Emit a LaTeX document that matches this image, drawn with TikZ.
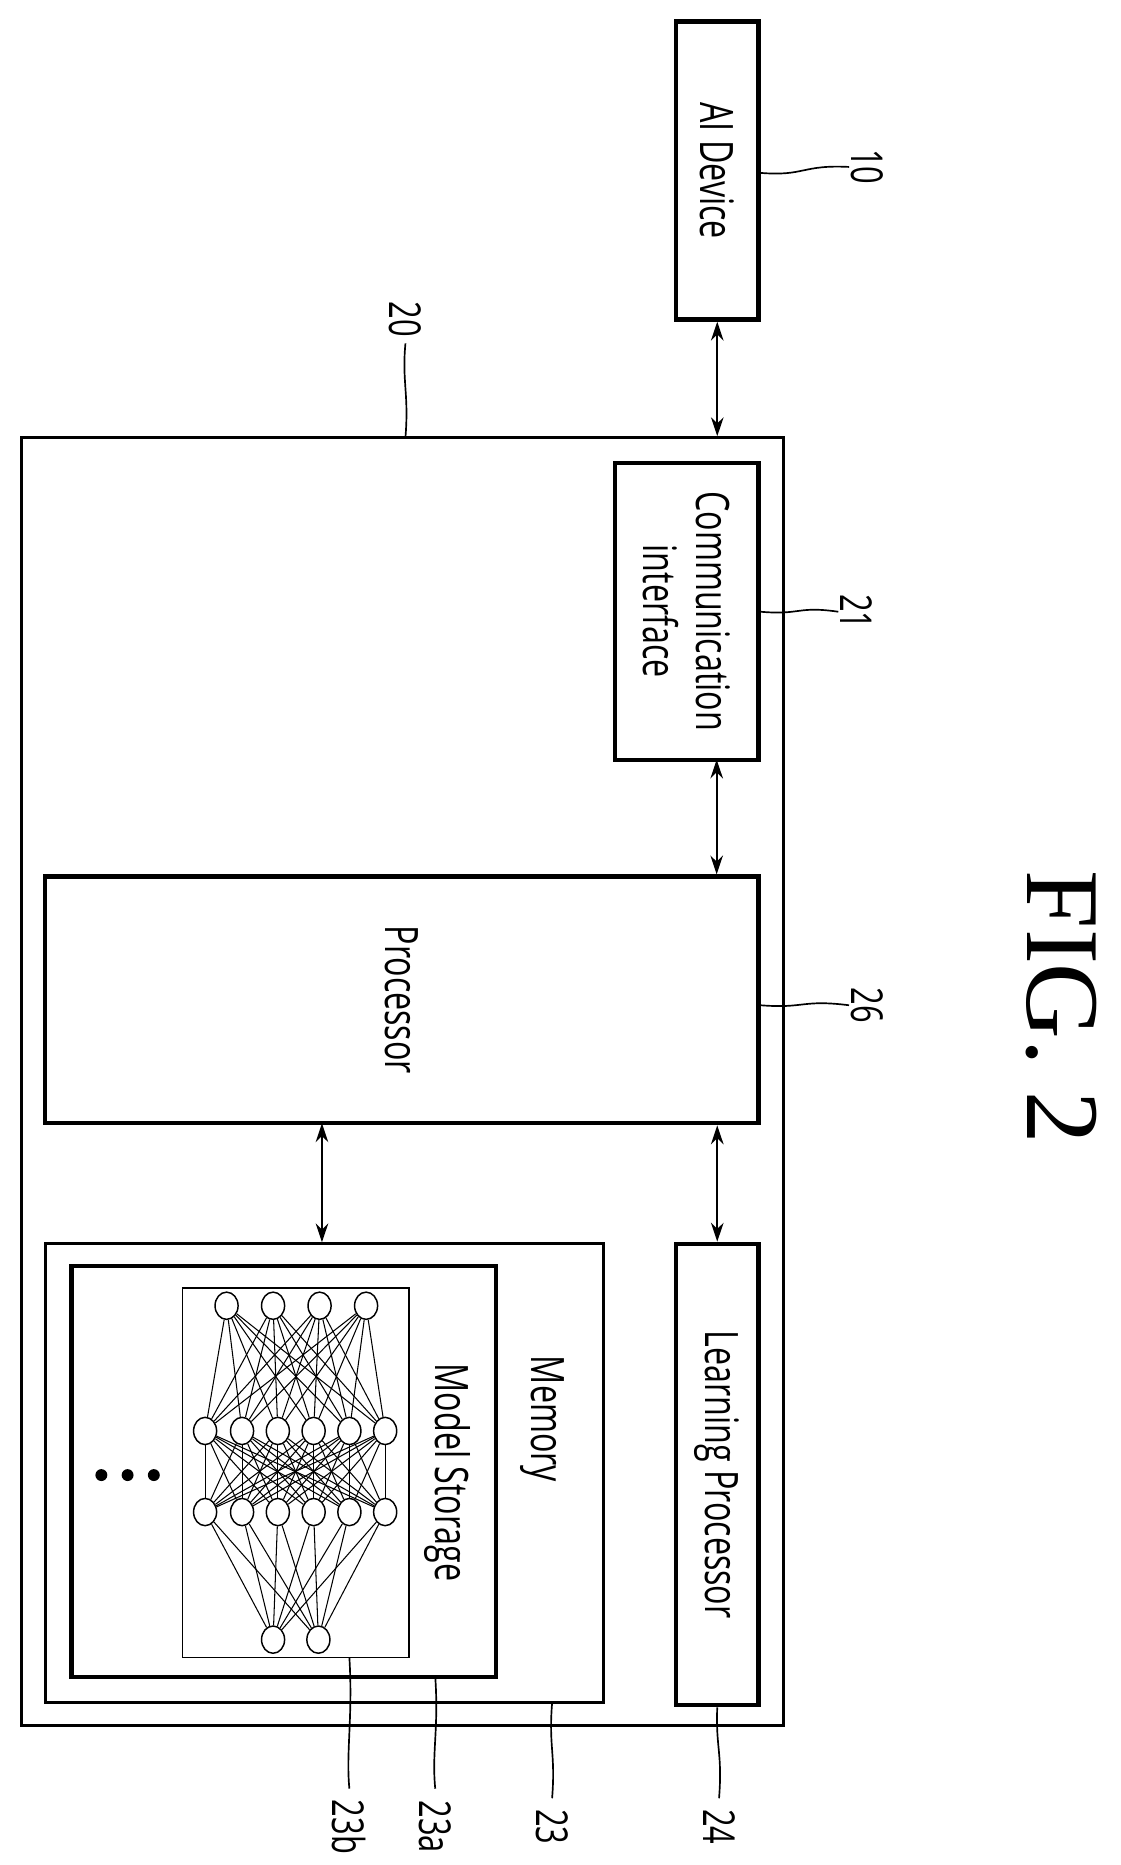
\documentclass[tikz,border=0pt]{standalone}
\usepackage{fontspec}
\setmainfont{Open Sans}
\newfontfamily\figfont{Liberation Serif}
\usetikzlibrary{fit,arrows.meta,shapes.geometric}
\tikzset{
box/.style={draw, line width=2pt, inner sep=0pt},
thinbox/.style={draw, line width=1pt, inner sep=0pt},
txt/.style={rotate=-90, xscale=.7, font=\fontsize{22}{25}\selectfont, align=center, inner sep=0pt},
num/.style={rotate=-90, xscale=.7, font=\fontsize{21}{24}\selectfont, inner sep=0pt},
link/.style={<->, line width=.9pt, >={Stealth[length=9pt,width=6pt]}},
leader/.style={line width=.8pt},
neuron/.style={draw, line width=.7pt, ellipse, minimum width=11pt, minimum height=13pt, inner sep=0pt, fill=white},
syn/.style={line width=.5pt},
}
\begin{document}
\begin{tikzpicture}[x=0.02cm, y=-0.02cm]
\useasboundingbox (0,0) rectangle (940,1564);
% boxes
\node[box, fit={(567,18)(636,268)}] (ai) {};
\node[box, line width=1.4pt, fit={(18,367)(657,1447)}] (server) {};
\node[box, fit={(516,388)(636,637)}] (comm) {};
\node[box, fit={(38,735)(636,942)}] (proc) {};
\node[box, fit={(567,1043)(636,1430)}] (learn) {};
\node[thinbox, line width=1.4pt, fit={(38,1043)(506,1428)}] (mem) {};
\node[box, fit={(60,1062)(416,1406)}] (store) {};
\node[thinbox, line width=.7pt, fit={(153,1080)(343,1390)}] (nn) {};
% texts
\node[txt] at (ai.center) {AI Device};
\node[txt] at (comm.center) {Communication\\interface};
\node[txt] at (proc.center) {Processor};
\node[txt] at (learn.center) {Learning Processor};
\node[txt] (memtxt) at (455,1190) {Memory};
\node[txt] (storetxt) at (375,1235) {Model Storage};
\foreach \x in {85,107,129} \fill (\x,1237) circle (5);
\node[rotate=-90, font=\fontsize{50}{54}\figfont] (fig) at (890,845) {FIG. 2};
% connectors
\draw[link] (ai.south) -- (ai.south |- server.north);
\draw[link] (601,637) coordinate (p0) -- (p0 |- proc.north);
\draw[link] (learn.north |- proc.south) -- (learn.north);
\draw[link] (270,942) coordinate (p1) -- (p1 |- mem.north);
% network
\foreach \x [count=\i] in {190,229,268,307} \node[neuron] (a\i) at (\x,1095) {};
\foreach \x [count=\i] in {172,203,233,263,293,323} \node[neuron] (b\i) at (\x,1200) {};
\foreach \x [count=\i] in {172,203,233,263,293,323} \node[neuron] (c\i) at (\x,1268) {};
\foreach \x [count=\i] in {229,267} \node[neuron] (d\i) at (\x,1375) {};
\foreach \i in {1,...,4} \foreach \j in {1,...,6} \draw[syn] (a\i) -- (b\j);
\foreach \i in {1,...,6} \foreach \j in {1,...,6} \draw[syn] (b\i) -- (c\j);
\foreach \i in {1,...,6} \foreach \j in {1,2} \draw[syn] (c\i) -- (d\j);
% numerals
\node[num] (n10) at (727,140) {10};
\node[num] (n20) at (340,268) {20};
\node[num] (n21) at (718,513) {21};
\node[num] (n26) at (727,843) {26};
\node[num] (n24) at (603,1532) {24};
\node[num] (n23) at (463,1532) {23};
\node[num] (n23a) at (365,1532) {23a};
\node[num] (n23b) at (293,1532) {23b};
% leaders
\draw[leader] (ai.east |- 0,145) .. controls (675,148) and (672,138) .. (n10.center -| 712,0);
\draw[leader] (340,367) .. controls (343,330) and (337,320) .. (n20.center |- 0,288);
\draw[leader] (comm.east |- 0,513) .. controls (672,516) and (668,508) .. (n21.center -| 703,0);
\draw[leader] (proc.east |- 0,843) .. controls (675,846) and (672,838) .. (n26.center -| 712,0);
\draw[leader] (learn.south) .. controls (600,1465) and (606,1470) .. (n24.center |- 0,1508);
\draw[leader] (463,1428) .. controls (460,1465) and (466,1470) .. (n23.center |- 0,1508);
\draw[leader] (365,1406) .. controls (368,1450) and (362,1470) .. (n23a.center |- 0,1500);
\draw[leader] (293,1390) .. controls (296,1440) and (290,1470) .. (n23b.center |- 0,1500);
\end{tikzpicture}
\end{document}
